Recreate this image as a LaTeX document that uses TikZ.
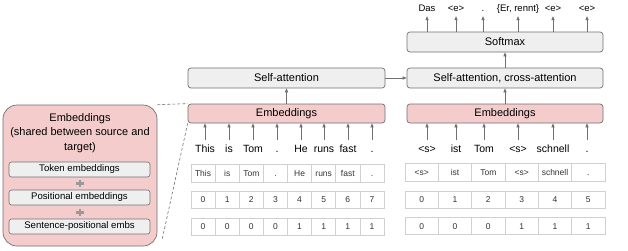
\documentclass[tikz,border=0pt]{standalone}
\usepackage{fontspec}
\setmainfont{Liberation Sans}
\usetikzlibrary{arrows.meta}
\definecolor{pinkc}{HTML}{F4CCCC}
\definecolor{grayc}{HTML}{EFEFEF}
\definecolor{edgec}{HTML}{707070}
\definecolor{cellc}{HTML}{D0D0D0}
\definecolor{celltext}{HTML}{333333}
\definecolor{plusc}{HTML}{999999}
\begin{document}
\begin{tikzpicture}[x=1pt,y=-1pt,
  pinkbox/.style={draw=edgec, fill=pinkc, rounded corners=3pt, line width=0.7pt, inner sep=0pt, font=\fontsize{11}{13}\selectfont},
  graybox/.style={draw=edgec, fill=grayc, rounded corners=3pt, line width=0.7pt, inner sep=0pt, font=\fontsize{11}{13}\selectfont},
  smallbox/.style={draw=edgec, fill=grayc, rounded corners=2.5pt, line width=0.6pt, inner sep=0pt, minimum width=141pt, minimum height=15pt, font=\fontsize{9.6}{11}\selectfont},
  arr/.style={draw=edgec, line width=0.6pt, -{Triangle[length=4pt,width=3.2pt]}},
  tok/.style={anchor=base, font=\fontsize{10.5}{12}\selectfont, inner xsep=0pt, inner ysep=4pt, text height=8pt, text depth=0pt},
  outlab/.style={anchor=base, font=\fontsize{9.5}{11}\selectfont, inner xsep=0pt, inner ysep=5pt, text height=7pt, text depth=0pt},
  cell/.style={draw=cellc, line width=0.6pt, minimum height=18pt, inner sep=0pt, font=\fontsize{8.5}{10}\selectfont, text=celltext, text height=6.3pt, text depth=0pt},
  dashline/.style={draw=edgec, line width=0.6pt, dash pattern=on 3pt off 2pt},
  plusline/.style={draw=plusc, line width=2.4pt},
  plusnode/.style={inner sep=0pt, minimum size=7.5pt}
]
\useasboundingbox (0,0) rectangle (628,250);

% ---- left embeddings detail box ----
\node[draw=edgec, fill=pinkc, line width=0.7pt, rounded corners=14pt, minimum width=154pt, minimum height=141pt, inner sep=0pt] (bigbox) at (80,175.5) {};
\node[align=center, font=\fontsize{11}{14.5}\selectfont, inner sep=0pt] (bigtitle) at (80,133) {Embeddings\\(shared between source and\\target)};
\node[smallbox] (tokemb) at (79.5,169.5) {Token embeddings};
\node[plusnode] (plus1) at (80,183.5) {};
\draw[plusline] (plus1.north) -- (plus1.south) (plus1.west) -- (plus1.east);
\node[smallbox] (posemb) at (79.5,197.5) {Positional embeddings};
\node[plusnode] (plus2) at (80,212.5) {};
\draw[plusline] (plus2.north) -- (plus2.south) (plus2.west) -- (plus2.east);
\node[smallbox] (sentemb) at (79.5,226.5) {Sentence-positional embs};

% ---- encoder (left) ----
\node[graybox, minimum width=197pt, minimum height=20pt] (lsa) at (286.5,78) {Self-attention};
\node[pinkbox, minimum width=197pt, minimum height=19pt] (lemb) at (286.5,113.5) {Embeddings};
\draw[arr] (lemb.north) -- (lsa.south);

% ---- decoder (right) ----
\node[graybox, minimum width=196pt, minimum height=20pt] (smax) at (505,42) {Softmax};
\node[graybox, minimum width=196pt, minimum height=20pt] (rsa) at (505,78) {Self-attention, cross-attention};
\node[pinkbox, minimum width=196pt, minimum height=19pt] (remb) at (505,113.5) {Embeddings};
\draw[arr] (remb.north) -- (rsa.south);
\draw[arr] (rsa.north) -- (smax.south);
\draw[arr] (lsa.east) -- (rsa.west);

% ---- dashed zoom lines ----
\coordinate (dashend) at (162,240);
\draw[dashline] (bigbox.north east) -- (lemb.north west);
\draw[dashline] (lemb.south west) -- (dashend);

% ---- left tokens ----
\foreach \x/\t [count=\i] in {205/This,229/is,253/Tom,277/.,301/He,324/runs,348/fast,372/.}{
  \node[tok] (lt\i) at (\x,152) {\t};
  \draw[arr] (lt\i.north) -- (lt\i.north |- lemb.south);
}
% ---- right tokens ----
\foreach \x/\t [count=\i] in {427/<s>,456/ist,484/Tom,518/<s>,553/schnell,587/.}{
  \node[tok] (rt\i) at (\x,152) {\t};
  \draw[arr] (rt\i.north) -- (rt\i.north |- remb.south);
}
% ---- outputs ----
\foreach \x/\t [count=\i] in {427/Das,456/<e>,483/.,518/{\{Er, rennt\}},553/<e>,587/<e>}{
  \node[outlab] (ol\i) at (\x,11) {\t};
  \draw[arr] (ol\i.south |- smax.north) -- (ol\i.south);
}

% ---- left tables ----
\foreach \t [count=\i] in {This,is,Tom,.,He,runs,fast,.}{
  \node[cell, minimum width=24.125pt] (la\i) at ({191+24.125*(\i-0.5)},173) {\t};
}
\foreach \t [count=\i] in {0,1,2,3,4,5,6,7}{
  \node[cell, minimum width=24.125pt, minimum height=17pt] (lb\i) at ({191+24.125*(\i-0.5)},199.5) {\t};
}
\foreach \t [count=\i] in {0,0,0,0,1,1,1,1}{
  \node[cell, minimum width=24.125pt, minimum height=17pt] (lc\i) at ({191+24.125*(\i-0.5)},226.5) {\t};
}
% ---- right tables ----
\foreach \t [count=\i] in {<s>,ist,Tom,<s>,schnell,.}{
  \node[cell, minimum width=33.33pt] (ra\i) at ({405+33.33*(\i-0.5)},172.5) {\t};
}
\foreach \t [count=\i] in {0,1,2,3,4,5}{
  \node[cell, minimum width=33.33pt, minimum height=17pt] (rb\i) at ({405+33.33*(\i-0.5)},199.5) {\t};
}
\foreach \t [count=\i] in {0,0,0,1,1,1}{
  \node[cell, minimum width=33.33pt, minimum height=17pt] (rc\i) at ({405+33.33*(\i-0.5)},226) {\t};
}
\end{tikzpicture}
\end{document}
